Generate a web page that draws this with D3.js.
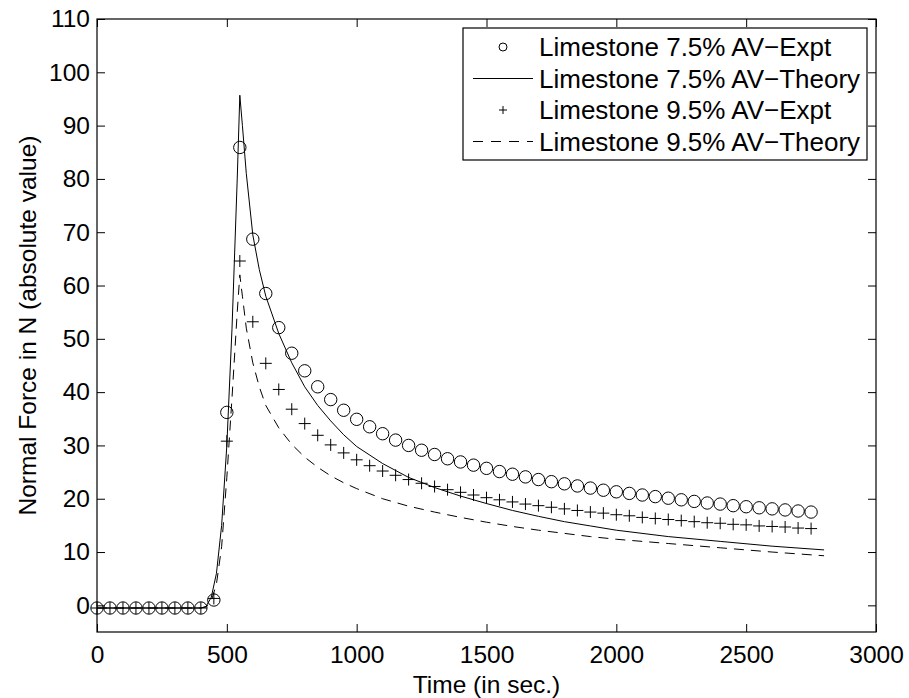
<!DOCTYPE html>
<html>
<head>
<meta charset="utf-8">
<script src="https://cdn.jsdelivr.net/npm/d3@7"></script>
<style>
  body { margin: 0; background: #fff; }
  svg { display: block; font-family: "Liberation Sans", Arial, Helvetica, sans-serif; }
</style>
</head>
<body>
<svg width="909" height="698"></svg>
<script>
// experiment sample times (s)
const exptTimes = [0, 50, 100, 150, 200, 250, 300, 350, 400, 450, 500, 550, 600, 650, 700, 750, 800, 850, 900, 950,
  1000, 1050, 1100, 1150, 1200, 1250, 1300, 1350, 1400, 1450, 1500, 1550, 1600, 1650, 1700, 1750, 1800, 1850, 1900, 1950,
  2000, 2050, 2100, 2150, 2200, 2250, 2300, 2350, 2400, 2450, 2500, 2550, 2600, 2650, 2700, 2750];

// Limestone 7.5% AV - experiment (circles)
const expt75 = [-0.5, -0.5, -0.5, -0.5, -0.5, -0.5, -0.5, -0.5, -0.5, 1.0, 36.2, 85.9, 68.7, 58.5, 52.1, 47.3, 44.0, 41.0, 38.6, 36.6,
  34.9, 33.5, 32.2, 31.0, 30.0, 29.1, 28.3, 27.5, 26.9, 26.3, 25.7, 25.1, 24.6, 24.1, 23.6, 23.2, 22.8, 22.4, 22.0, 21.6,
  21.3, 21.0, 20.7, 20.4, 20.1, 19.8, 19.5, 19.2, 19.0, 18.7, 18.5, 18.3, 18.1, 17.9, 17.7, 17.5];

// Limestone 9.5% AV - experiment (plus signs)
const expt95 = [-0.5, -0.5, -0.5, -0.5, -0.5, -0.5, -0.5, -0.5, -0.5, 1.3, 30.8, 64.6, 53.2, 45.4, 40.5, 36.8, 34.1, 31.9, 30.1, 28.6,
  27.3, 26.2, 25.2, 24.4, 23.6, 22.9, 22.3, 21.7, 21.2, 20.7, 20.2, 19.8, 19.4, 19.0, 18.7, 18.4, 18.1, 17.8, 17.5, 17.3,
  17.0, 16.8, 16.5, 16.3, 16.1, 15.9, 15.7, 15.5, 15.4, 15.2, 15.1, 14.9, 14.8, 14.7, 14.5, 14.4];

// theory curves
const theory75Times = [0, 400, 420, 440, 460, 480, 500, 520, 540, 550, 560, 575, 600, 625, 650, 700, 750, 800, 850, 900, 950,
  1000, 1100, 1200, 1300, 1400, 1500, 1600, 1700, 1800, 1900, 2000, 2200, 2400, 2600, 2800];
const theory75 = [-0.5, -0.5, -0.2, 1.5, 6, 15, 30, 52, 80, 95.7, 90, 81, 69.5, 63, 58, 51, 45.5, 41, 37.5, 34.6, 32.0,
  29.8, 26.6, 24.0, 22.1, 20.5, 19.1, 17.8, 16.7, 15.7, 14.9, 14.1, 12.9, 12.0, 11.1, 10.4];

const theory95Times = [0, 400, 420, 440, 460, 480, 500, 520, 540, 550, 560, 575, 600, 625, 650, 700, 750, 800, 850, 900, 950,
  1000, 1100, 1200, 1300, 1400, 1500, 1600, 1700, 1800, 1900, 2000, 2200, 2400, 2600, 2800];
const theory95 = [-0.5, -0.5, -0.3, 0.8, 4, 11, 24, 39, 55, 62, 58, 52, 45.5, 41, 37.5, 33.3, 30.2, 27.8, 25.9, 24.3, 23.0,
  21.9, 20.0, 18.6, 17.5, 16.5, 15.6, 14.8, 14.1, 13.5, 12.9, 12.4, 11.6, 10.8, 10.0, 9.3];

const xTicks = [0, 500, 1000, 1500, 2000, 2500, 3000];
const yTicks = [0, 10, 20, 30, 40, 50, 60, 70, 80, 90, 100, 110];

const legendLabels = ['Limestone 7.5% AV\u2212Expt', 'Limestone 7.5% AV\u2212Theory',
  'Limestone 9.5% AV\u2212Expt', 'Limestone 9.5% AV\u2212Theory'];

const svg = d3.select('svg');
const margin = { top: 19, right: 33, bottom: 66, left: 97 };
const width = +svg.attr('width') - margin.left - margin.right;
const height = +svg.attr('height') - margin.top - margin.bottom;

const x = d3.scaleLinear().domain([0, 3000]).range([0, width]);
const y = d3.scaleLinear().domain([-5, 110]).range([height, 0]);

const g = svg.append('g').attr('transform', `translate(${margin.left},${margin.top})`);

// axes, MATLAB style: inward ticks on all four sides
const tickLen = 8;
const styleAxis = sel => {
  sel.select('.domain').remove();
  sel.selectAll('line').attr('stroke', '#000').attr('stroke-width', 1);
  sel.selectAll('text').attr('fill', '#000').style('font-size', '24.5px');
};

g.append('g')
  .attr('transform', `translate(0,${height})`)
  .call(d3.axisBottom(x).tickValues(xTicks).tickSize(-tickLen).tickPadding(14).tickFormat(d3.format('d')))
  .call(styleAxis);
g.append('g')
  .call(d3.axisTop(x).tickValues(xTicks).tickSize(-tickLen).tickFormat(''))
  .call(styleAxis);
g.append('g')
  .call(d3.axisLeft(y).tickValues(yTicks).tickSize(-tickLen).tickPadding(7).tickFormat(d3.format('d')))
  .call(styleAxis);
g.append('g')
  .attr('transform', `translate(${width},0)`)
  .call(d3.axisRight(y).tickValues(yTicks).tickSize(-tickLen).tickFormat(''))
  .call(styleAxis);

g.append('rect')
  .attr('width', width).attr('height', height)
  .attr('fill', 'none').attr('stroke', '#000').attr('stroke-width', 1.2);

// theory lines
const line = d3.line().x(d => x(d[0])).y(d => y(d[1]));
g.append('path')
  .datum(d3.zip(theory75Times, theory75))
  .attr('d', line)
  .attr('fill', 'none').attr('stroke', '#000').attr('stroke-width', 1);
g.append('path')
  .datum(d3.zip(theory95Times, theory95))
  .attr('d', line)
  .attr('fill', 'none').attr('stroke', '#000').attr('stroke-width', 1)
  .attr('stroke-dasharray', '10,7');

// experiment markers
g.selectAll('.circ').data(d3.zip(exptTimes, expt75)).enter().append('circle')
  .attr('class', 'circ')
  .attr('cx', d => x(d[0])).attr('cy', d => y(d[1])).attr('r', 6.2)
  .attr('fill', 'none').attr('stroke', '#000').attr('stroke-width', 1);

const plus = (s) => `M${-s},0H${s}M0,${-s}V${s}`;
g.selectAll('.plus').data(d3.zip(exptTimes, expt95)).enter().append('path')
  .attr('class', 'plus')
  .attr('transform', d => `translate(${x(d[0])},${y(d[1])})`)
  .attr('d', plus(6))
  .attr('fill', 'none').attr('stroke', '#000').attr('stroke-width', 1);

// axis titles
svg.append('text')
  .attr('x', margin.left + width / 2).attr('y', 693)
  .attr('text-anchor', 'middle').style('font-size', '24.5px')
  .text('Time (in sec.)');
svg.append('text')
  .attr('transform', `translate(36,${margin.top + height / 2}) rotate(-90)`)
  .attr('text-anchor', 'middle').style('font-size', '24.5px')
  .text('Normal Force in N (absolute value)');

// legend
const lg = svg.append('g').attr('transform', 'translate(463,28)');
lg.append('rect').attr('width', 404).attr('height', 132)
  .attr('fill', '#fff').attr('stroke', '#000').attr('stroke-width', 1.2);
const rowY = i => 19 + i * 31.5;
legendLabels.forEach((lab, i) => {
  const row = lg.append('g').attr('transform', `translate(0,${rowY(i)})`);
  if (i === 0) {
    row.append('circle').attr('cx', 40).attr('r', 4)
      .attr('fill', 'none').attr('stroke', '#000');
  } else if (i === 2) {
    row.append('path').attr('transform', 'translate(40,0)').attr('d', plus(4))
      .attr('stroke', '#000');
  } else {
    row.append('line').attr('x1', 10).attr('x2', 70)
      .attr('stroke', '#000')
      .attr('stroke-dasharray', i === 3 ? '10,8' : null);
  }
  row.append('text').attr('x', 76).attr('dy', '0.36em')
    .style('font-size', '26px').text(lab);
});
</script>
</body>
</html>
